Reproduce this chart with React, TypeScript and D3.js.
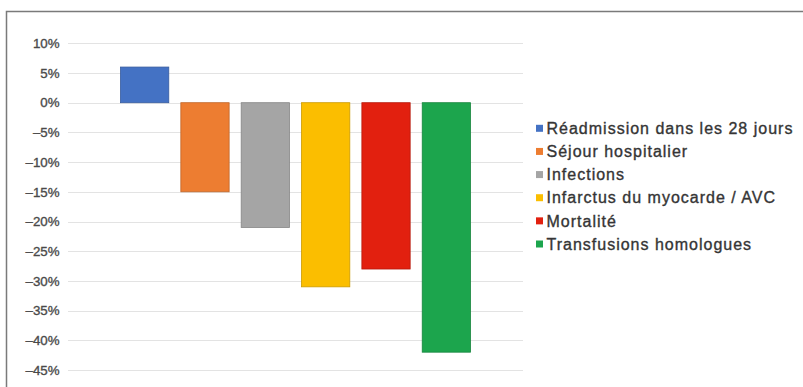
import React from 'react';
import * as d3 from 'd3';

const series = [
  'Réadmission dans les 28 jours',
  'Séjour hospitalier',
  'Infections',
  'Infarctus du myocarde / AVC',
  'Mortalité',
  'Transfusions homologues',
];
const values = [6, -15, -21, -31, -28, -42];
const colors = ['#4472C4', '#ED7D31', '#A5A5A5', '#FBBE00', '#E2200F', '#1CA54D'];
const yTicks = [10, 5, 0, -5, -10, -15, -20, -25, -30, -35, -40, -45];

const width = 803;
const height = 387;
const plot = { left: 68, right: 523, top: 43.3, bottom: 370 };

const fmt = (v: number) => (v < 0 ? '\u2013' + Math.abs(v) : String(v)) + '%';

export default function App() {
  const y = d3.scaleLinear().domain([-45, 10]).range([plot.bottom, plot.top]);

  // one category, six series, clustered like a spreadsheet column chart
  const x0 = d3.scaleBand().domain(['all']).range([plot.left, plot.right]).paddingOuter(0.15);
  const x1 = d3
    .scaleBand()
    .domain(series)
    .range([x0('all') as number, (x0('all') as number) + x0.bandwidth()])
    .paddingInner(0.2);

  const legendY = d3.scalePoint().domain(series).range([128.3, 244]);

  return (
    <svg
      width={width}
      height={height}
      style={{ position: 'absolute', left: 0, top: 0, background: '#fff' }}
      fontFamily="'Liberation Sans', Arial, sans-serif"
    >
      {/* frame */}
      <path d={`M6.5,${height} V11.5 H${width}`} fill="none" stroke="#7a7a7a" strokeWidth={1.5} />

      {/* grid */}
      <g>
        {yTicks.map((t) => (
          <line
            key={t}
            x1={plot.left}
            x2={plot.right}
            y1={Math.round(y(t)) + 0.5}
            y2={Math.round(y(t)) + 0.5}
            stroke="#e3e3e3"
            strokeWidth={1}
          />
        ))}
      </g>

      {/* y labels */}
      <g fontSize={13.3} fill="#4a4a4a" stroke="#4a4a4a" strokeWidth={0.35} textAnchor="end">
        {yTicks.map((t) => (
          <text key={t} x={59.5} y={y(t)} dy="0.36em">
            {fmt(t)}
          </text>
        ))}
      </g>

      {/* bars */}
      <g>
        {series.map((s, i) => (
          <rect
            key={s}
            x={x1(s)}
            y={y(Math.max(0, values[i]))}
            width={x1.bandwidth()}
            height={Math.abs(y(values[i]) - y(0))}
            fill={colors[i]}
            stroke={d3.color(colors[i])!.darker(0.6).formatHex()}
            strokeWidth={0.8}
          />
        ))}
      </g>

      {/* legend */}
      <g>
        {series.map((s, i) => (
          <g key={s} transform={`translate(0,${legendY(s)})`}>
            <rect x={536} y={-3.5} width={7} height={7} fill={colors[i]} />
            <text
              x={546.5}
              dy="0.36em"
              fontSize={16}
              letterSpacing={1}
              fill="#353535"
              stroke="#353535"
              strokeWidth={0.35}
            >
              {s}
            </text>
          </g>
        ))}
      </g>
    </svg>
  );
}
